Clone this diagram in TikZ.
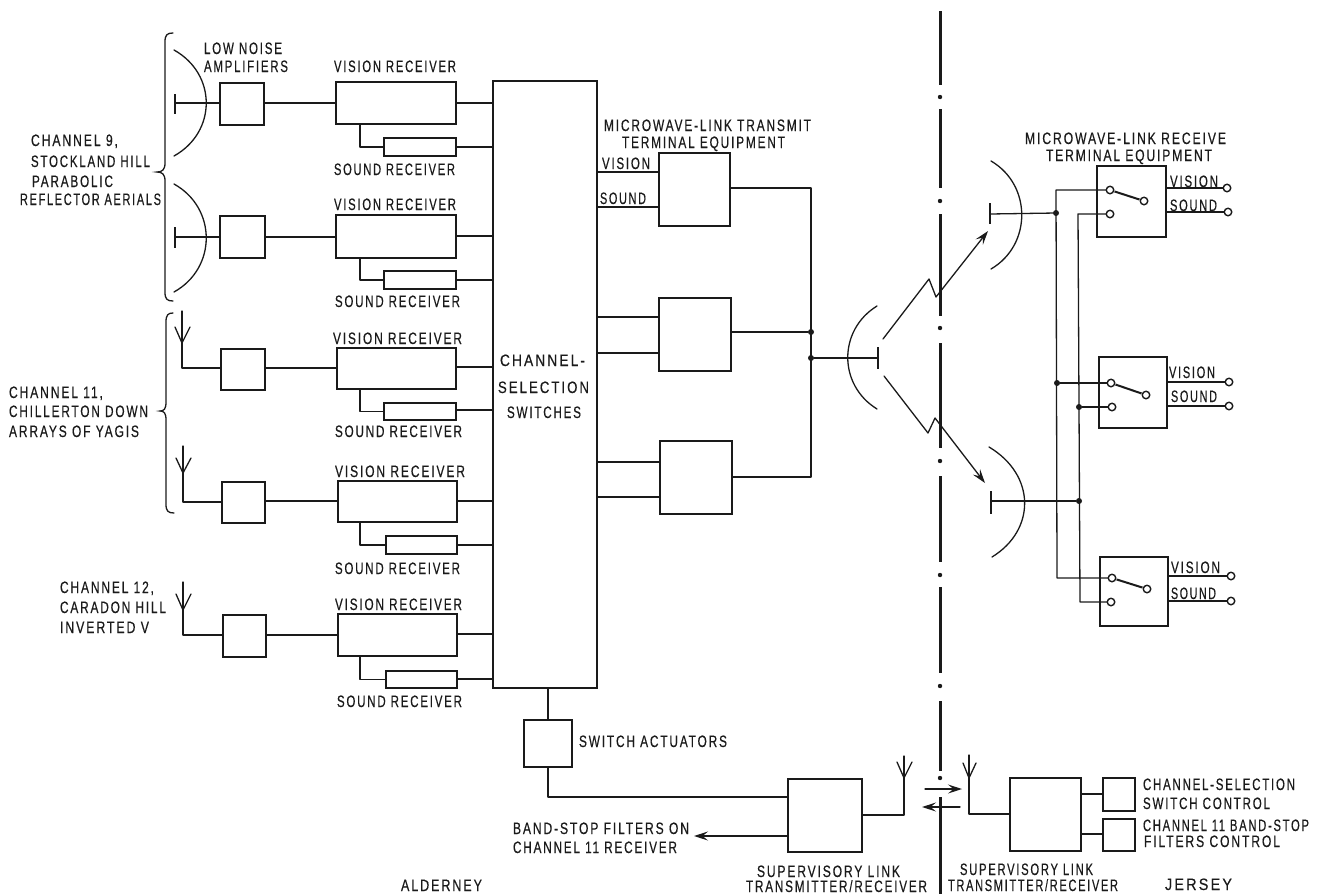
\documentclass[tikz,border=0pt]{standalone}
\usepackage{graphicx}
\usepackage{fontspec}
\setmainfont[FakeStretch=0.72,LetterSpace=11,FakeBold=0.35]{Liberation Sans}
\usetikzlibrary{arrows.meta}
\tikzset{
  wire/.style={line width=1.3pt,line cap=round,line join=round,draw=ink},
  boxn/.style={draw=ink,line width=1.7pt,inner sep=0pt,outer sep=0pt,rectangle},
  lbl/.style={inner sep=0pt,outer sep=0pt,anchor=west,text=ink,text height=12pt,text depth=0pt,font=\fontsize{16.5}{18}\selectfont},
  dishn/.style={line width=1.3pt,draw=ink,line cap=round},
  feed/.style={line width=2.6pt,draw=ink},
  brc/.style={line width=1.3pt,draw=ink,line cap=round},
  opn/.style={circle,draw=ink,fill=white,line width=1.4pt,minimum size=7.5pt,inner sep=0pt,outer sep=0pt},
  dotn/.style={circle,fill=ink,minimum size=6pt,inner sep=0pt,outer sep=0pt},
  swarm/.style={line width=2pt,draw=ink,shorten <=1pt,shorten >=1pt},
  centre/.style={line width=3pt,draw=ink},
  cdot/.style={circle,fill=ink,minimum size=4.4pt,inner sep=0pt,outer sep=0pt},
  arw/.style={wire,-{Stealth[length=14pt,width=9pt,inset=5.5pt]}},
}
\definecolor{ink}{HTML}{1A1A1A}
\newcommand\bx[5]{\node[boxn,minimum width={(#4-#2)*1pt},minimum height={(#5-#3)*1pt}] (#1) at ({(#2+#4)/2},{(#3+#5)/2}) {};}
\newcommand\lbl[5]{\node[lbl] (#1) at (#2,#4) {\resizebox{\dimexpr#3pt-#2pt\relax}{\height}{#5}};}
\begin{document}
\begin{tikzpicture}[x=1pt,y=-1pt]
\useasboundingbox (0,0) rectangle (1321,894);
% main switch block
\bx{css}{493}{81}{597}{688}
% receiver chains
\bx{lna1}{220}{83}{264}{125}  \bx{vis1}{336}{82}{456}{124}  \bx{snd1}{384}{138}{456}{156}
\bx{lna2}{220}{216}{265}{258} \bx{vis2}{336}{215}{456}{258} \bx{snd2}{384}{271}{456}{289}
\bx{lna3}{221}{349}{265}{390} \bx{vis3}{337}{348}{456}{389} \bx{snd3}{384}{403}{456}{420}
\bx{lna4}{222}{482}{265}{523} \bx{vis4}{338}{481}{457}{522} \bx{snd4}{386}{536}{457}{554}
\bx{lna5}{223}{615}{266}{657} \bx{vis5}{338}{614}{457}{656} \bx{snd5}{386}{671}{457}{688}
% dishes, channel 9
\coordinate (bar1) at (175,103);
\coordinate (bar2) at (175,237);
\draw[dishn] (174,50) .. controls (217,74) and (217,132) .. (174,156);
\draw[dishn] (174,184) .. controls (217,208) and (217,268) .. (174,292);
\draw[feed] (175,94) -- (175,114);
\draw[feed] (175,227) -- (175,248);
\draw[wire] (bar1) -- (lna1.west |- bar1);
\draw[wire] (bar2) -- (lna2.west |- bar2);
% yagis
\coordinate (y1) at (182,368);
\coordinate (y2) at (183,502);
\coordinate (y3) at (183,635);
\draw[wire] (182,311) -- (y1) -- (lna3.west |- y1);
\draw[wire] (175,327) -- (182,343) -- (190,327);
\draw[wire] (183,446) -- (y2) -- (lna4.west |- y2);
\draw[wire] (176,458) -- (183,473) -- (191,458);
\draw[wire] (183,582) -- (y3) -- (lna5.west |- y3);
\draw[wire] (176,594) -- (183,610) -- (191,594);
% lna to vision, vision to switches, sound
\foreach \n/\ya/\yb/\yc in {1/103/103/147, 2/237/236/280, 3/368/367/410, 4/501/501/545, 5/635/634/679}{
  \draw[wire] (lna\n.east |- 0,\ya) -- (vis\n.west |- 0,\ya);
  \draw[wire] (vis\n.east |- 0,\yb) -- (css.west |- 0,\yb);
  \draw[wire] (snd\n.east |- 0,\yc) -- (css.west |- 0,\yc);
  \draw[wire] (360,0 |- vis\n.south) -- (360,0 |- snd\n.center) -- (snd\n.west);
}
% braces
\draw[brc] (173,33) .. controls (167,33) and (165,35) .. (165,42) -- (165,163) .. controls (165,170) and (162,172) .. (157,172) .. controls (162,172) and (165,174) .. (165,181) -- (165,292) .. controls (165,299) and (167,301) .. (173,301);
\draw[brc] (173,313) .. controls (168,313) and (166,315) .. (166,322) -- (166,402) .. controls (166,409) and (164,411) .. (160,411) .. controls (164,411) and (166,413) .. (166,420) -- (166,504) .. controls (166,511) and (168,513) .. (174,513);
% transmit equipment
\bx{tx1}{659}{153}{730}{226}
\bx{tx2}{659}{298}{731}{371}
\bx{tx3}{660}{441}{732}{514}
\foreach \n/\ya/\yb in {1/172/207, 2/317/353, 3/462/497}{
  \draw[wire] (css.east |- 0,\ya) -- (tx\n.west |- 0,\ya);
  \draw[wire] (css.east |- 0,\yb) -- (tx\n.west |- 0,\yb);
}
\node[dotn] (j1) at (811,332) {};
\node[dotn] (j2) at (811,358) {};
\draw[wire] (tx1.east |- 0,188) -- (811,188) -- (811,477) -- (tx3.east |- 0,477);
\draw[wire] (tx2.east |- j1) -- (j1);
\coordinate (txbar) at (878,358);
\draw[wire] (j2) -- (txbar);
\draw[feed] (878,347) -- (878,369);
\draw[dishn] (877,306) .. controls (838,330) and (838,385) .. (877,409);
% radio paths
\coordinate (tipA) at (988,231);
\coordinate (tipB) at (985,483);
\draw[arw] (883,339) -- (929,279) -- (936,297) -- (tipA);
\draw[arw] (884,376) -- (928,433) -- (935,418) -- (tipB);
% centre line
\foreach \a/\b in {11/85,109/188,214/316,343/448,476/562,587/673,701/771,797/894}{
  \draw[centre] (940,\a) -- (940,\b);
}
\foreach \d in {97,201,328,461,575,686,778}{
  \node[cdot] at (940,\d) {};
}
% receive dishes
\coordinate (rbar1) at (990,214);
\coordinate (rbar2) at (991,501);
\draw[feed] (990,203) -- (990,224);
\draw[feed] (991,491) -- (991,514);
\draw[dishn] (991,161) .. controls (1032,185) and (1032,245) .. (991,269);
\draw[dishn] (989,447) .. controls (1036,475) and (1036,530) .. (992,557);
% receive equipment
\bx{rx1}{1097}{166}{1166}{237}
\bx{rx2}{1099}{357}{1167}{428}
\bx{rx3}{1100}{557}{1168}{626}
\node[opn] (a1) at (1110,190) {}; \node[opn] (b1) at (1144,201) {}; \node[opn] (c1) at (1110,214) {};
\node[opn] (a2) at (1111,383) {}; \node[opn] (b2) at (1146,395) {}; \node[opn] (c2) at (1112,407) {};
\node[opn] (a3) at (1112,578) {}; \node[opn] (b3) at (1147,589) {}; \node[opn] (c3) at (1111,602) {};
\foreach \n in {1,2,3}{ \draw[swarm] (a\n) -- (b\n); }
\node[dotn] (r1) at (1056,213) {};
\node[dotn] (r2) at (1057,383) {};
\node[dotn] (r3) at (1079,407) {};
\node[dotn] (r4) at (1079,501) {};
\draw[wire] (rbar1) -- (r1);
\draw[wire] (rbar2) -- (r4);
\draw[wire] (a1) -- (1056,190) -- (1057,578) -- (a3);
\draw[wire] (c1) -- (1078,214) -- (1080,602) -- (c3);
\draw[wire] (r2) -- (a2);
\draw[wire] (r3) -- (c2);
% outputs
\node[opn] (v1) at (1227,188) {}; \node[opn] (s1) at (1228,212) {};
\node[opn] (v2) at (1229,382) {}; \node[opn] (s2) at (1229,406) {};
\node[opn] (v3) at (1231,576) {}; \node[opn] (s3) at (1231,601) {};
\foreach \n in {1,2,3}{
  \draw[wire] (rx\n.east |- v\n) -- (v\n);
  \draw[wire] (rx\n.east |- s\n) -- (s\n);
}
% supervisory link
\bx{act}{524}{720}{572}{767}
\bx{sup1}{788}{779}{862}{852}
\bx{sup2}{1010}{778}{1081}{851}
\bx{ctl1}{1103}{778}{1135}{811}
\bx{ctl2}{1103}{819}{1135}{851}
\draw[wire] (css.south -| 548,0) -- (act.north -| 548,0);
\draw[wire] (act.south -| 548,0) -- (548,797) -- (sup1.west |- 0,797);
\coordinate (ant1) at (904,815);
\coordinate (ant2) at (969,814);
\draw[wire] (sup1.east |- ant1) -- (ant1) -- (904,756);
\draw[wire] (897,762) -- (904,778) -- (912,762);
\draw[wire] (sup2.west |- ant2) -- (ant2) -- (969,755);
\draw[wire] (963,763) -- (969,778) -- (976,763);
\draw[wire] (sup2.east |- 0,794) -- (ctl1.west |- 0,794);
\draw[wire] (sup2.east |- 0,834) -- (ctl2.west |- 0,834);
\coordinate (bsf) at (694,836);
\draw[arw] (sup1.west |- bsf) -- (bsf);
\coordinate (wa) at (925,789); \coordinate (wb) at (962,789);
\coordinate (wc) at (960,807); \coordinate (wd) at (922,807);
\draw[arw] (wa) -- (wb);
\draw[arw] (wc) -- (wd);
% labels
\lbl{t01}{204}{282}{48}{LOW NOISE}
\lbl{t02}{204}{288}{66}{AMPLIFIERS}
\lbl{t03}{334}{456}{66}{VISION RECEIVER}
\lbl{t04}{334}{455}{169}{SOUND RECEIVER}
\lbl{t05}{334}{456}{204}{VISION RECEIVER}
\lbl{t06}{335}{460}{301}{SOUND RECEIVER}
\lbl{t07}{333}{462}{338}{VISION RECEIVER}
\lbl{t08}{335}{462}{431}{SOUND RECEIVER}
\lbl{t09}{335}{465}{471}{VISION RECEIVER}
\lbl{t10}{335}{460}{568}{SOUND RECEIVER}
\lbl{t11}{335}{462}{604}{VISION RECEIVER}
\lbl{t12}{337}{462}{701}{SOUND RECEIVER}
\lbl{t13}{31}{118}{140}{CHANNEL 9,}
\lbl{t14}{31}{150}{161}{STOCKLAND HILL}
\lbl{t15}{32}{113}{181}{PARABOLIC}
\lbl{t16}{20}{161}{199}{REFLECTOR AERIALS}
\lbl{t17}{9}{103}{392}{CHANNEL 11,}
\lbl{t18}{9}{148}{411}{CHILLERTON DOWN}
\lbl{t19}{9}{139}{431}{ARRAYS OF YAGIS}
\lbl{t20}{60}{154}{587}{CHANNEL 12,}
\lbl{t21}{60}{166}{607}{CARADON HILL}
\lbl{t22}{60}{149}{627}{INVERTED V}
\lbl{t23}{500}{585}{360}{CHANNEL-}
\lbl{t24}{498}{589}{387}{SELECTION}
\lbl{t25}{507}{581}{412}{SWITCHES}
\lbl{t26}{604}{811}{125}{MICROWAVE-LINK TRANSMIT}
\lbl{t27}{622}{785}{142}{TERMINAL EQUIPMENT}
\lbl{t28}{602}{650}{163}{VISION}
\lbl{t29}{600}{646}{198}{SOUND}
\lbl{t30}{1025}{1226}{138}{MICROWAVE-LINK RECEIVE}
\lbl{t31}{1046}{1212}{155}{TERMINAL EQUIPMENT}
\lbl{t32}{1170}{1218}{181}{VISION}
\lbl{t33}{1170}{1217}{205}{SOUND}
\lbl{t34}{1169}{1215}{372}{VISION}
\lbl{t35}{1171}{1217}{396}{SOUND}
\lbl{t36}{1171}{1220}{567}{VISION}
\lbl{t37}{1171}{1216}{593}{SOUND}
\lbl{t38}{579}{727}{741}{SWITCH ACTUATORS}
\lbl{t39}{513}{689}{828}{BAND-STOP FILTERS ON}
\lbl{t40}{513}{677}{847}{CHANNEL 11 RECEIVER}
\lbl{t41}{757}{900}{871}{SUPERVISORY LINK}
\lbl{t42}{746}{927}{886}{TRANSMITTER/RECEIVER}
\lbl{t43}{960}{1093}{869}{SUPERVISORY LINK}
\lbl{t44}{948}{1118}{885}{TRANSMITTER/RECEIVER}
\lbl{t45}{401}{482}{885}{ALDERNEY}
\lbl{t46}{1165}{1232}{884}{JERSEY}
\lbl{t47}{1143}{1295}{784}{CHANNEL-SELECTION}
\lbl{t48}{1143}{1270}{803}{SWITCH CONTROL}
\lbl{t49}{1143}{1309}{825}{CHANNEL 11 BAND-STOP}
\lbl{t50}{1144}{1280}{841}{FILTERS CONTROL}
\end{tikzpicture}
\end{document}
